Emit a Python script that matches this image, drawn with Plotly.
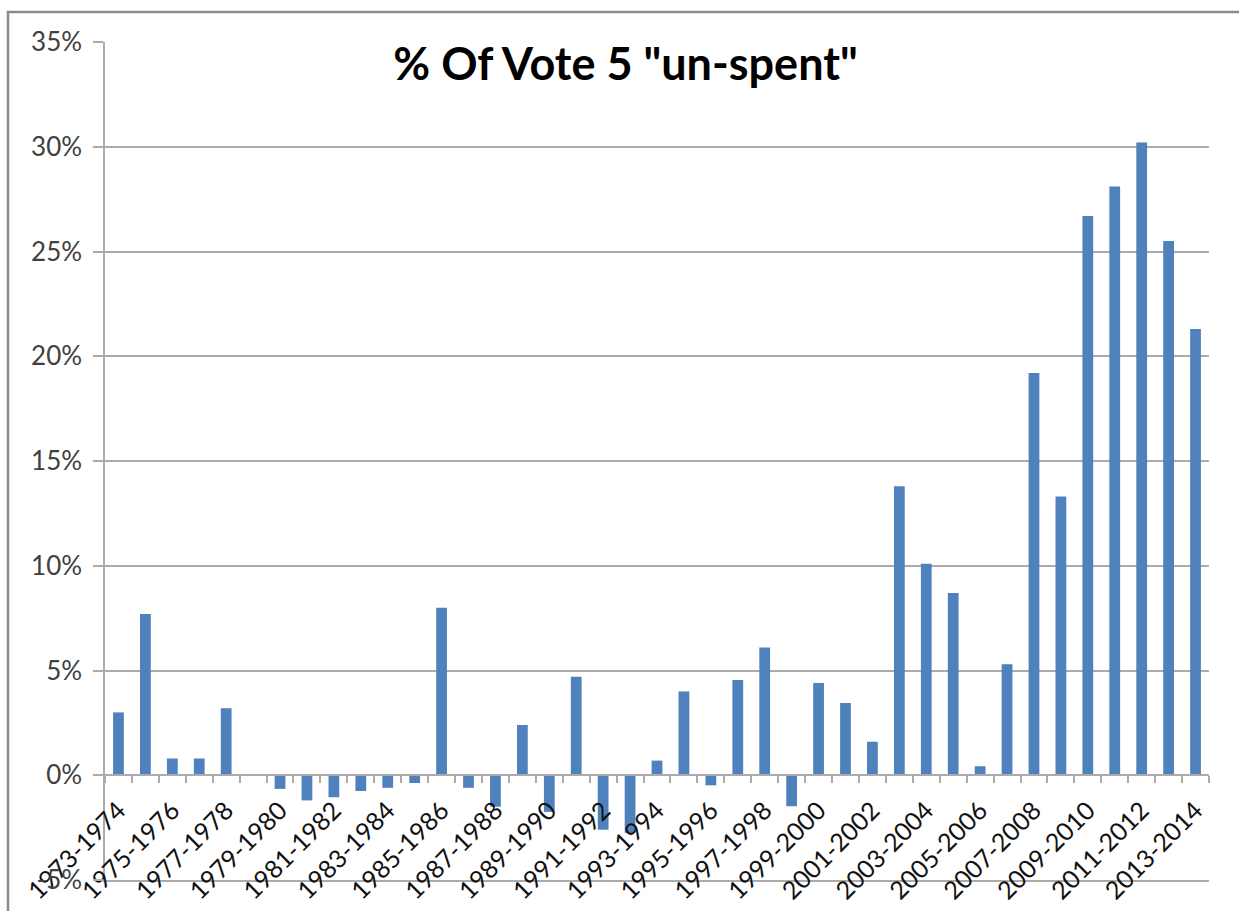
import plotly.graph_objects as go

# Fiscal-year periods and share of Vote 5 left unspent (%)
periods = [f"{y}-{y + 1}" for y in range(1973, 2014)]
unspent_pct = [
    3.0, 7.7, 0.8, 0.8, 3.2, 0.0, -0.65, -1.2, -1.05, -0.75,
    -0.6, -0.37, 8.0, -0.6, -1.5, 2.4, -1.75, 4.7, -2.6, -2.75,
    0.7, 4.0, -0.48, 4.55, 6.1, -1.48, 4.4, 3.45, 1.6, 13.8,
    10.1, 8.7, 0.43, 5.3, 19.2, 13.3, 26.7, 28.1, 30.2, 25.5,
    21.3,
]
y_ticks = [-5, 0, 5, 10, 15, 20, 25, 30, 35]
y_tick_text = [f"{v}%" for v in y_ticks]

Y_MIN, Y_MAX = -5, 35
x_idx = list(range(len(periods)))
label_idx = x_idx[::2]
boundary_idx = [i + 0.5 for i in range(-1, len(periods))]

GRID = "#ababab"
FONT = "Lato, 'Open Sans', sans-serif"

fig = go.Figure()
fig.add_trace(go.Bar(
    x=x_idx,
    y=unspent_pct,
    width=0.4,
    marker=dict(color="#4F81BD", line=dict(width=0)),
    hovertext=periods,
))
# empty trace that keeps the bottom frame axis active
fig.add_trace(go.Scatter(x=[], y=[], xaxis="x2", yaxis="y", showlegend=False))

fig.update_layout(
    width=1239,
    height=911,
    margin=dict(l=105, r=30, t=42, b=31, autoexpand=False),
    paper_bgcolor="white",
    plot_bgcolor="white",
    showlegend=False,
    title=dict(
        text='% Of Vote 5 "un-spent"',
        font=dict(family=FONT, size=45, color="#000000", weight="bold"),
        xref="paper", x=0.4715, xanchor="center",
        yref="container", y=1 - 64 / 911, yanchor="middle",
        automargin=False,
    ),
    xaxis=dict(
        range=[-0.5, len(periods) - 0.5],
        tickmode="array",
        tickvals=label_idx,
        ticktext=[periods[i] for i in label_idx],
        tickangle=-45,
        ticks="",
        tickfont=dict(family=FONT, size=25, color="#111111"),
        ticklabelstandoff=10,
        showgrid=False,
        zeroline=False,
        showline=True,
        linecolor=GRID,
        linewidth=1.5,
        anchor="free",
        position=(0 - Y_MIN) / (Y_MAX - Y_MIN),
        automargin=False,
        minor=dict(
            tickmode="array",
            tickvals=boundary_idx,
            ticks="outside",
            ticklen=7,
            tickwidth=1.5,
            tickcolor=GRID,
            showgrid=False,
        ),
    ),
    xaxis2=dict(
        overlaying="x",
        matches="x",
        anchor="y",
        side="bottom",
        showline=True,
        linecolor=GRID,
        linewidth=1.5,
        showticklabels=False,
        ticks="",
        showgrid=False,
        zeroline=False,
        automargin=False,
    ),
    yaxis=dict(
        range=[Y_MIN, Y_MAX],
        tickmode="array",
        tickvals=y_ticks,
        ticktext=y_tick_text,
        tickfont=dict(family=FONT, size=26, color="#404040"),
        showgrid=True,
        gridcolor=GRID,
        gridwidth=1.5,
        zeroline=False,
        showline=True,
        linecolor=GRID,
        linewidth=1.5,
        ticks="outside",
        ticklen=10,
        tickwidth=1.5,
        tickcolor=GRID,
        ticklabelstandoff=6,
        automargin=False,
    ),
    shapes=[
        # outer chart frame
        dict(
            type="rect", xref="paper", yref="paper",
            x0=(8 - 105) / 1104, x1=1.2,
            y0=-0.2, y1=1 + (42 - 12) / 838,
            line=dict(color="#8a8a8a", width=2.5),
            fillcolor="rgba(0,0,0,0)",
            layer="below",
        ),
    ],
)

fig.write_html("out.html")
